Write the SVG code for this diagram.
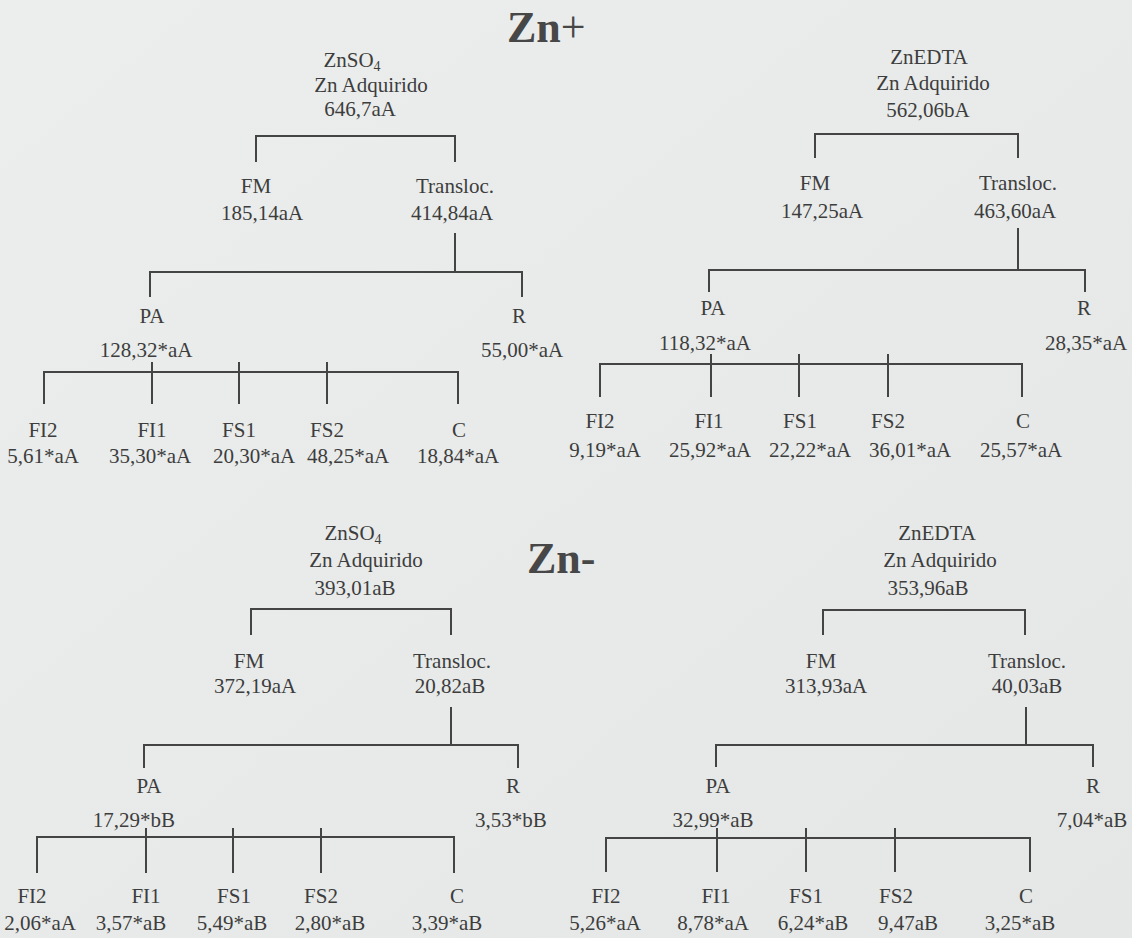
<svg xmlns="http://www.w3.org/2000/svg" width="1132" height="938" viewBox="0 0 1132 938">
<defs>
<style>
.t{font-size:21px;fill:#3d3d3d;text-anchor:middle}
.s{font-size:14px}
.title{font-size:44px;font-weight:bold;fill:#474747}
.c{stroke:#444;stroke-width:2;fill:none}
</style>
<linearGradient id="bg" x1="0" y1="0" x2="1" y2="1">
<stop offset="0" stop-color="#eceeed"/>
<stop offset="1" stop-color="#e4e7e6"/>
</linearGradient>
</defs>
<rect width="1132" height="938" fill="url(#bg)"/>

<g font-family="Liberation Serif">
<g id="title-zn-plus"><text class="title" x="507" y="42">Zn<tspan font-weight="normal">+</tspan></text></g>
<g id="title-zn-minus"><text class="title" x="527" y="573">Zn-</text></g>

<g id="connectors">
<path class="c" d="M256,162 V136 H455 V162"/>
<path class="c" d="M455,233 V272 M150,297 V272 H522 V297"/>
<path class="c" d="M44,404 V372 H458 V404 M152,362 V404 M239,362 V404 M327,362 V404"/>
<path class="c" d="M815,158 V134 H1018 V158"/>
<path class="c" d="M1018,228 V270 M709,292 V270 H1085 V292"/>
<path class="c" d="M600,397 V364 H1022 V397 M711,354 V397 M799,354 V397 M888,354 V397"/>
<path class="c" d="M251,635 V609 H451 V635"/>
<path class="c" d="M451,707 V745 M144,768 V745 H518 V768"/>
<path class="c" d="M37,873 V837 H454 V873 M146,828 V873 M233,828 V873 M321,828 V873"/>
<path class="c" d="M823,635 V610 H1025 V635"/>
<path class="c" d="M1026,707 V745 M716,767 V745 H1093 V767"/>
<path class="c" d="M606,872 V838 H1030 V872 M717,828 V872 M806,828 V872 M895,828 V872"/>
</g>

<g id="tl-root"><text class="t" x="352" y="67">ZnSO<tspan class="s" dy="4">4</tspan></text><text class="t" x="371" y="92">Zn Adquirido</text><text class="t" x="360" y="116">646,7aA</text></g>
<g id="tl-fm"><text class="t" x="256" y="193">FM</text><text class="t" x="262" y="220">185,14aA</text></g>
<g id="tl-transloc"><text class="t" x="455" y="193">Transloc.</text><text class="t" x="452" y="220">414,84aA</text></g>
<g id="tl-pa"><text class="t" x="152" y="323">PA</text><text class="t" x="146" y="357">128,32*aA</text></g>
<g id="tl-r"><text class="t" x="519" y="323">R</text><text class="t" x="522" y="357">55,00*aA</text></g>
<g id="tl-fi2"><text class="t" x="43" y="437">FI2</text><text class="t" x="43" y="463">5,61*aA</text></g>
<g id="tl-fi1"><text class="t" x="152" y="437">FI1</text><text class="t" x="150" y="463">35,30*aA</text></g>
<g id="tl-fs1"><text class="t" x="239" y="437">FS1</text><text class="t" x="254" y="463">20,30*aA</text></g>
<g id="tl-fs2"><text class="t" x="327" y="437">FS2</text><text class="t" x="348" y="463">48,25*aA</text></g>
<g id="tl-c"><text class="t" x="459" y="437">C</text><text class="t" x="458" y="463">18,84*aA</text></g>

<g id="tr-root"><text class="t" x="929" y="64">ZnEDTA</text><text class="t" x="933" y="90">Zn Adquirido</text><text class="t" x="928" y="117">562,06bA</text></g>
<g id="tr-fm"><text class="t" x="815" y="190">FM</text><text class="t" x="822" y="218">147,25aA</text></g>
<g id="tr-transloc"><text class="t" x="1018" y="190">Transloc.</text><text class="t" x="1015" y="218">463,60aA</text></g>
<g id="tr-pa"><text class="t" x="713" y="315">PA</text><text class="t" x="705" y="350">118,32*aA</text></g>
<g id="tr-r"><text class="t" x="1084" y="315">R</text><text class="t" x="1086" y="350">28,35*aA</text></g>
<g id="tr-fi2"><text class="t" x="600" y="428">FI2</text><text class="t" x="605" y="457">9,19*aA</text></g>
<g id="tr-fi1"><text class="t" x="709" y="428">FI1</text><text class="t" x="710" y="457">25,92*aA</text></g>
<g id="tr-fs1"><text class="t" x="800" y="428">FS1</text><text class="t" x="810" y="457">22,22*aA</text></g>
<g id="tr-fs2"><text class="t" x="888" y="428">FS2</text><text class="t" x="910" y="457">36,01*aA</text></g>
<g id="tr-c"><text class="t" x="1023" y="428">C</text><text class="t" x="1021" y="457">25,57*aA</text></g>

<g id="bl-root"><text class="t" x="353" y="540">ZnSO<tspan class="s" dy="4">4</tspan></text><text class="t" x="366" y="567">Zn Adquirido</text><text class="t" x="355" y="595">393,01aB</text></g>
<g id="bl-fm"><text class="t" x="249" y="668">FM</text><text class="t" x="255" y="693">372,19aA</text></g>
<g id="bl-transloc"><text class="t" x="452" y="668">Transloc.</text><text class="t" x="450" y="693">20,82aB</text></g>
<g id="bl-pa"><text class="t" x="149" y="793">PA</text><text class="t" x="134" y="827">17,29*bB</text></g>
<g id="bl-r"><text class="t" x="513" y="793">R</text><text class="t" x="511" y="827">3,53*bB</text></g>
<g id="bl-fi2"><text class="t" x="32" y="903">FI2</text><text class="t" x="40" y="930">2,06*aA</text></g>
<g id="bl-fi1"><text class="t" x="146" y="903">FI1</text><text class="t" x="131" y="930">3,57*aB</text></g>
<g id="bl-fs1"><text class="t" x="234" y="903">FS1</text><text class="t" x="232" y="930">5,49*aB</text></g>
<g id="bl-fs2"><text class="t" x="321" y="903">FS2</text><text class="t" x="330" y="930">2,80*aB</text></g>
<g id="bl-c"><text class="t" x="457" y="903">C</text><text class="t" x="447" y="930">3,39*aB</text></g>

<g id="br-root"><text class="t" x="937" y="540">ZnEDTA</text><text class="t" x="940" y="567">Zn Adquirido</text><text class="t" x="928" y="595">353,96aB</text></g>
<g id="br-fm"><text class="t" x="821" y="668">FM</text><text class="t" x="826" y="693">313,93aA</text></g>
<g id="br-transloc"><text class="t" x="1027" y="668">Transloc.</text><text class="t" x="1027" y="693">40,03aB</text></g>
<g id="br-pa"><text class="t" x="718" y="793">PA</text><text class="t" x="713" y="827">32,99*aB</text></g>
<g id="br-r"><text class="t" x="1093" y="793">R</text><text class="t" x="1092" y="827">7,04*aB</text></g>
<g id="br-fi2"><text class="t" x="606" y="903">FI2</text><text class="t" x="605" y="930">5,26*aA</text></g>
<g id="br-fi1"><text class="t" x="716" y="903">FI1</text><text class="t" x="713" y="930">8,78*aA</text></g>
<g id="br-fs1"><text class="t" x="806" y="903">FS1</text><text class="t" x="813" y="930">6,24*aB</text></g>
<g id="br-fs2"><text class="t" x="896" y="903">FS2</text><text class="t" x="908" y="930">9,47aB</text></g>
<g id="br-c"><text class="t" x="1026" y="903">C</text><text class="t" x="1020" y="930">3,25*aB</text></g>
</g>
</svg>
